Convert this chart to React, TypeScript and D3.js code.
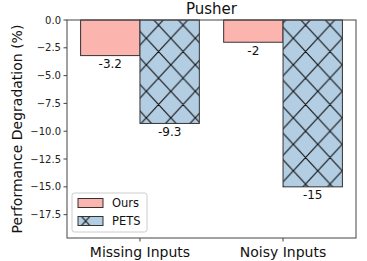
import React, { useEffect, useRef } from "react";
import * as d3 from "d3";

const groups = ["Missing Inputs", "Noisy Inputs"];
const ours = [-3.2, -2];
const pets = [-9.3, -15];
const seriesNames = ["Ours", "PETS"];
const yTicks = [0, -2.5, -5, -7.5, -10, -12.5, -15, -17.5];

const W = 367;
const H = 261;
const FONT = "DejaVu Sans, sans-serif";

// lines of a crosshatch tile, with neighbours so corners don't notch
const hatchPath = (w: number, h: number) => {
  let p = "";
  for (let i = -1; i <= 1; i++) {
    for (let j = -1; j <= 1; j++) {
      const x0 = i * w, y0 = j * h;
      p += `M${x0},${y0}L${x0 + w},${y0 + h}`;
      p += `M${x0 + w},${y0}L${x0},${y0 + h}`;
    }
  }
  return p;
};

const App = () => {
  const ref = useRef<SVGSVGElement>(null);

  useEffect(() => {
    const svg = d3.select(ref.current);
    svg.selectAll("*").remove();

    const left = 67, right = 356, top = 20, bottom = 238;
    const x = d3.scaleLinear().domain([-0.51, 1.51]).range([left, right]);
    const y = d3.scaleLinear().domain([-19.6, 0]).range([bottom, top]);
    const bw = 0.415;
    const colors = ["#fbb4ae", "#b3cde3"];
    const edge = "#333";

    const hw = 24.5, hh = 26.5;
    const defs = svg.append("defs");
    const mkPattern = (id: string, ox: number, oy: number) => {
      const p = defs.append("pattern")
        .attr("id", id)
        .attr("patternUnits", "userSpaceOnUse")
        .attr("x", ox).attr("y", oy)
        .attr("width", hw).attr("height", hh);
      p.append("path")
        .attr("d", hatchPath(hw, hh))
        .attr("stroke", "#111")
        .attr("stroke-width", 1.15)
        .attr("fill", "none");
    };
    mkPattern("hatch", 146.3, 38.3);
    mkPattern("hatchLeg", 85.7 - hw / 2, 221 - hh / 2);

    const g = svg.append("g");

    // bars
    const series = [ours, pets];
    series.forEach((vals, si) => {
      vals.forEach((v, gi) => {
        const x0 = x(gi + (si === 0 ? -bw : 0));
        const x1 = x(gi + (si === 0 ? 0 : bw));
        g.append("rect")
          .attr("x", x0).attr("y", y(0))
          .attr("width", x1 - x0).attr("height", y(v) - y(0))
          .attr("fill", colors[si]);
        if (si === 1) {
          g.append("rect")
            .attr("x", x0).attr("y", y(0))
            .attr("width", x1 - x0).attr("height", y(v) - y(0))
            .attr("fill", "url(#hatch)");
        }
        g.append("rect")
          .attr("x", x0).attr("y", y(0))
          .attr("width", x1 - x0).attr("height", y(v) - y(0))
          .attr("fill", "none")
          .attr("stroke", edge)
          .attr("stroke-width", 1);
        g.append("text")
          .attr("x", (x0 + x1) / 2)
          .attr("y", y(v) + 12.5)
          .attr("text-anchor", "middle")
          .style("font-family", FONT)
          .style("font-size", "12px")
          .attr("fill", "#111")
          .text(String(v));
      });
    });

    // spines
    g.append("rect")
      .attr("x", left).attr("y", top)
      .attr("width", right - left).attr("height", bottom - top)
      .attr("fill", "none")
      .attr("stroke", "#444")
      .attr("stroke-width", 1);

    // y ticks
    yTicks.forEach(t => {
      g.append("line")
        .attr("x1", left - 3.5).attr("x2", left)
        .attr("y1", y(t)).attr("y2", y(t))
        .attr("stroke", "#444");
      g.append("text")
        .attr("x", left - 6).attr("y", y(t) + 3.6)
        .attr("text-anchor", "end")
        .style("font-family", FONT)
        .style("font-size", "10px")
        .attr("fill", "#222")
        .text(d3.format(".1f")(t).replace("-", "\u2212"));
    });

    // x ticks
    groups.forEach((name, i) => {
      g.append("line")
        .attr("x1", x(i)).attr("x2", x(i))
        .attr("y1", bottom).attr("y2", bottom + 3.5)
        .attr("stroke", "#444");
      g.append("text")
        .attr("x", x(i)).attr("y", 257)
        .attr("text-anchor", "middle")
        .style("font-family", FONT)
        .style("font-size", "14px")
        .attr("fill", "#111")
        .text(name);
    });

    // y label
    g.append("text")
      .attr("transform", `translate(22,${(top + bottom) / 2}) rotate(-90)`)
      .attr("text-anchor", "middle")
      .style("font-family", FONT)
      .style("font-size", "14px")
      .attr("fill", "#111")
      .text("Performance Degradation (%)");

    // title
    g.append("text")
      .attr("x", (left + right) / 2).attr("y", 14)
      .attr("text-anchor", "middle")
      .style("font-family", FONT)
      .style("font-size", "15px")
      .attr("fill", "#111")
      .text("Pusher");

    // legend
    const leg = g.append("g");
    leg.append("rect")
      .attr("x", 72).attr("y", 193)
      .attr("width", 75).attr("height", 39)
      .attr("rx", 2.5)
      .attr("fill", "white")
      .attr("fill-opacity", 0.8)
      .attr("stroke", "#ccc");
    seriesNames.forEach((name, i) => {
      const py = i === 0 ? 198.5 : 216.5;
      leg.append("rect")
        .attr("x", 78).attr("y", py)
        .attr("width", 25).attr("height", 9)
        .attr("fill", colors[i]);
      if (i === 1) {
        leg.append("rect")
          .attr("x", 78).attr("y", py)
          .attr("width", 25).attr("height", 9)
          .attr("fill", "url(#hatchLeg)");
      }
      leg.append("rect")
        .attr("x", 78).attr("y", py)
        .attr("width", 25).attr("height", 9)
        .attr("fill", "none")
        .attr("stroke", edge);
      leg.append("text")
        .attr("x", 112).attr("y", py + 8.5)
        .style("font-family", FONT)
        .style("font-size", "11.5px")
        .attr("fill", "#111")
        .text(name);
    });
  }, []);

  return (
    <svg
      ref={ref}
      width={W}
      height={H}
      style={{ position: "absolute", left: 0, top: 0, background: "white" }}
    />
  );
};

export default App;
